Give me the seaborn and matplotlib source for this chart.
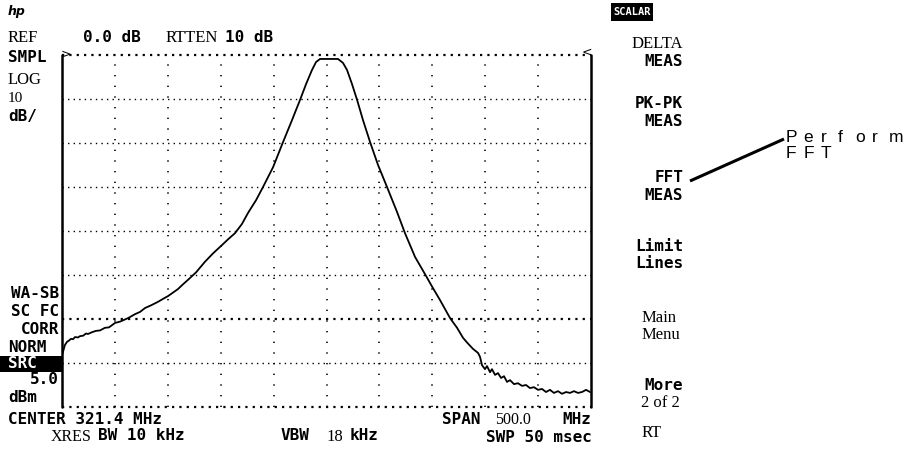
import matplotlib
matplotlib.use("Agg")
import matplotlib.pyplot as plt
import seaborn as sns
import pandas as pd

# ---- data -------------------------------------------------------------
center_mhz = 321.4
span_mhz = 500.0
ref_db = 0.0
db_per_div = 10

freq_mhz = [
    71.4, 72.3, 74.2, 76.1, 78.0, 79.9, 81.8, 83.7, 86.5, 88.4, 91.3, 94.1,
    96.0, 99.8, 103.5, 107.3, 112.0, 115.8, 121.5, 126.2, 133.8, 140.4, 145.1,
    149.9, 155.5, 162.1, 167.8, 171.6, 176.3, 181.0, 185.8, 190.5, 198.1,
    206.5, 214.1, 222.6, 228.3, 234.9, 241.5, 247.2, 254.8, 261.4, 270.9,
    280.3, 288.8, 296.4, 302.1, 307.7, 311.5, 315.3, 324.7, 332.3, 337.0,
    340.8, 345.5, 350.3, 355.9, 362.6, 370.1, 378.6, 388.1, 395.6, 405.1,
    414.5, 421.1, 428.7, 438.2, 444.8, 450.5, 455.2, 459.9, 464.6, 466.5,
    468.4, 471.2, 473.1, 476.0, 477.8, 480.7, 483.5, 486.4, 489.2, 492.0,
    494.9, 498.6, 502.4, 506.2, 510.0, 513.7, 517.5, 521.3, 525.1, 528.9,
    532.6, 536.4, 540.2, 544.0, 547.8, 551.6, 555.3, 559.1, 562.9, 566.7,
    570.5,
]
level_db = [
    -68.2, -67.5, -65.9, -65.2, -64.9, -64.5, -64.6, -64.1, -64.2, -63.9,
    -63.8, -63.3, -63.4, -63.0, -62.7, -62.6, -62.0, -61.9, -60.9, -60.6,
    -59.8, -58.9, -58.4, -57.5, -56.9, -56.1, -55.3, -54.8, -54.0, -53.2,
    -52.1, -51.1, -49.4, -47.0, -45.1, -43.2, -41.9, -40.5, -38.4, -35.9,
    -33.0, -30.0, -25.5, -19.8, -14.8, -10.2, -6.6, -3.4, -1.6, -0.9,
    -0.9, -0.9, -1.8, -3.4, -6.6, -10.2, -14.8, -19.8, -25.0, -30.0,
    -35.7, -40.5, -45.9, -49.8, -52.6, -55.7, -59.8, -62.0, -64.3, -65.6,
    -66.8, -67.7, -68.6, -70.5, -71.4, -70.7, -72.1, -71.4, -72.7, -72.3,
    -73.4, -73.0, -74.3, -73.9, -74.8, -74.6, -75.2, -75.0, -75.7, -75.5,
    -76.1, -75.9, -76.6, -76.1, -76.8, -76.4, -77.0, -76.6, -76.8, -76.4,
    -76.8, -76.6, -76.1, -76.6,
]

# ---- figure -----------------------------------------------------------
sns.set_theme(style="white")
W, H = 905, 449
fig = plt.figure(figsize=(W / 100, H / 100), dpi=100)
fig.patch.set_facecolor("white")

L, R, T, B = 62, 591, 55, 407
ax = fig.add_axes([L / W, 1 - B / H, (R - L) / W, (B - T) / H])
ax.set_facecolor("white")

x0 = center_mhz - span_mhz / 2
x1 = center_mhz + span_mhz / 2
ax.set_xlim(x0, x1)
ax.set_ylim(ref_db - 8 * db_per_div, ref_db)
for s in ax.spines.values():
    s.set_visible(False)
ax.set_xticks([])
ax.set_yticks([])

# graticule
for k in range(1, 10):
    ax.axvline(x0 + k * span_mhz / 10, color="black", lw=1.2,
               linestyle=(0, (0.8, 5.6)), zorder=1)
for k in range(0, 9):
    yv = ref_db - k * db_per_div
    if k in (0, 6, 8):
        ax.axhline(yv, color="black", lw=1.6, linestyle=(0, (1.0, 2.3)),
                   zorder=1, clip_on=False)
    else:
        ax.axhline(yv, color="black", lw=1.0, linestyle=(0, (1.0, 3.0)),
                   zorder=1)
ax.axvline(x0, color="black", lw=1.8, zorder=3, clip_on=False)
ax.axvline(x1, color="black", lw=1.8, zorder=3, clip_on=False)

df = pd.DataFrame({"freq": freq_mhz, "level": level_db})
sns.lineplot(data=df, x="freq", y="level", color="black", lw=1.3,
             ax=ax, sort=False, zorder=4)
ax.set_xlabel("")
ax.set_ylabel("")


def P(x, y):
    return x / W, 1 - y / H


MONO = dict(family="DejaVu Sans Mono", fontweight="bold", fontsize=11.5,
            color="black")
SERIF = dict(family="Liberation Serif", fontsize=12, color="black")


def txt(x, y, s, style, ha="left", **kw):
    d = dict(style)
    d.update(kw)
    fig.text(*P(x, y), s, ha=ha, va="center", **d)


# logo
txt(8, 11, "hp", dict(family="DejaVu Sans", fontsize=9, fontweight="bold",
                      fontstyle="italic", color="black"))

# header line
txt(8, 38, "REF", SERIF)
txt(83, 37, "0.0 dB", MONO)
txt(166, 38, "RTTEN", SERIF)
txt(225, 37, "10 dB", MONO)

# markers at graticule corners
txt(61, 54, ">", dict(family="DejaVu Sans", fontsize=9, color="black"))
txt(592, 52, "<", dict(family="DejaVu Sans", fontsize=9, color="black"),
    ha="right")

# left column
txt(8, 57, "SMPL", MONO)
txt(8, 80, "LOG", SERIF)
txt(8, 99, "10", dict(SERIF, fontsize=11))
txt(8, 117, "dB/", MONO)
txt(59, 293, "WA-SB", MONO, ha="right")
txt(59, 311, "SC FC", MONO, ha="right")
txt(59, 329, "CORR", MONO, ha="right")
txt(8, 347, "NORM", MONO)
fig.patches.append(plt.Rectangle(P(0, 372), 62 / W, 16 / H,
                                 transform=fig.transFigure,
                                 facecolor="black", edgecolor="none"))
txt(8, 364, "SRC", MONO, color="white")
txt(59, 380, "5.0", MONO, ha="right")
txt(8, 397, "dBm", MONO)

# bottom lines
txt(8, 419, "CENTER 321.4 MHz", MONO)
txt(51, 437, "XRES", dict(SERIF, fontsize=11.5))
txt(98, 436, "BW 10 kHz", MONO)
txt(281, 436, "VBW", MONO)
txt(326, 437, "18", SERIF)
txt(350, 436, "kHz", MONO)
txt(442, 419, "SPAN", MONO)
txt(495, 420, "500.0", dict(SERIF, fontsize=11.5))
txt(591, 419, "MHz", MONO, ha="right")
txt(592, 437, "SWP 50 msec", MONO, ha="right")

# softkey column
fig.patches.append(plt.Rectangle(P(611, 21), 42 / W, 18 / H,
                                 transform=fig.transFigure,
                                 facecolor="black", edgecolor="none"))
txt(632, 12, "SCALAR", dict(family="DejaVu Sans Mono", fontweight="bold",
                            fontsize=7.5, color="white"), ha="center")
txt(683, 44, "DELTA", SERIF, ha="right")
txt(683, 62, "MEAS", MONO, ha="right")
txt(683, 104, "PK-PK", MONO, ha="right")
txt(683, 121, "MEAS", MONO, ha="right")
txt(683, 177, "FFT", MONO, ha="right")
txt(683, 196, "MEAS", MONO, ha="right")
txt(683, 246, "Limit", MONO, ha="right")
txt(683, 264, "Lines", MONO, ha="right")
txt(642, 318, "Main", SERIF)
txt(642, 335, "Menu", SERIF)
txt(683, 385, "More", MONO, ha="right")
txt(680, 403, "2 of 2", SERIF, ha="right")
txt(642, 433, "RT", SERIF)

# callout
fig.add_artist(plt.Line2D([690 / W, 784 / W], [1 - 181 / H, 1 - 139 / H],
                          transform=fig.transFigure, color="black", lw=2.2,
                          solid_capstyle="butt"))
SANS = dict(family="Liberation Sans", fontsize=12.5, color="black")
pitch = 17.2
for i, ch in enumerate("Perform"):
    fig.text(*P(786 + i * pitch, 137), ch, ha="left", va="center", **SANS)
for i, ch in enumerate("FFT"):
    fig.text(*P(786 + i * pitch, 154), ch, ha="left", va="center", **SANS)

fig.savefig("out.png", dpi=100, facecolor="white")
